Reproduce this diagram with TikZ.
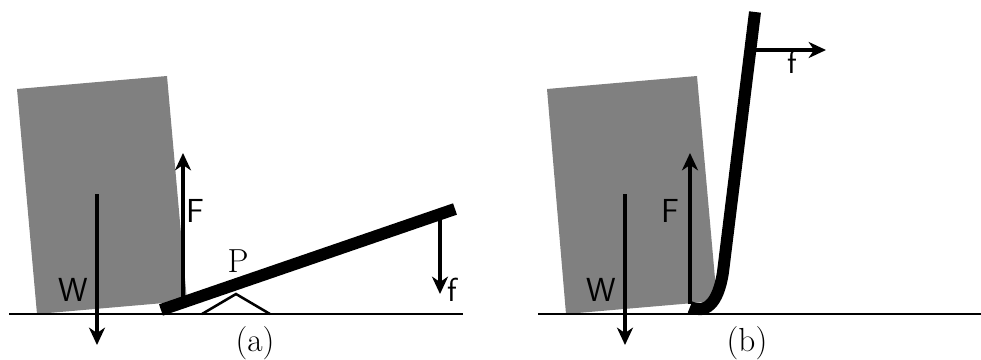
\documentclass[tikz,border=0pt]{standalone}
\usepackage{tikz}
\usetikzlibrary{arrows.meta,positioning}
\definecolor{blockgray}{RGB}{128,128,128}
\tikzset{
  block/.style={fill=blockgray,draw=none},
  ground/.style={line width=1.9pt},
  lever/.style={line width=9pt},
  force/.style={-{Stealth[length=13pt,width=12pt,inset=4pt]},line width=3pt},
  sanslabel/.style={font=\fontsize{25}{25}\selectfont\sffamily,inner sep=0pt},
  seriflabel/.style={font=\fontsize{25}{25}\selectfont,inner sep=0pt},
}
\begin{document}
\begin{tikzpicture}[x=0.75pt,y=-0.75pt]
\useasboundingbox (0,0) rectangle (981,360);
% panel (a)
\fill[block] (17,89)--(167,76)--(187,301)--(37,314)--cycle;
\coordinate (groundA1) at (9,314);
\coordinate (groundA2) at (463,314);
\draw[ground] (groundA1)--(groundA2);
\coordinate (pivotL) at (202,314);
\coordinate (pivotT) at (236,294);
\coordinate (pivotR) at (270,314);
\draw[ground] (pivotL)--(pivotT)--(pivotR);
\coordinate (leverA1) at (161,310);
\coordinate (leverA2) at (455,209);
\draw[lever] (leverA1)--(leverA2);
\coordinate (wA1) at (97,194);
\coordinate (wA2) at (97,345);
\draw[force] (wA1)--(wA2);
\coordinate (fA1) at (183,304);
\coordinate (fA2) at (183,153);
\draw[force] (fA1)--(fA2);
\coordinate (sA1) at (440,215);
\coordinate (sA2) at (440,294);
\draw[force] (sA1)--(sA2);
\node[sanslabel] (labWa) at (73,290) {W};
\node[sanslabel] (labFa) at (195,211) {F};
\node[sanslabel] (labfa) at (452,290) {f};
\node[seriflabel] (labP) at (238,261) {P};
\node[seriflabel] (capa) at (255,343) {(a)};
% panel (b)
\fill[block] (547,89)--(697,76)--(717,301)--(566,314)--cycle;
\coordinate (groundB1) at (538,314);
\coordinate (groundB2) at (981,314);
\draw[ground] (groundB1)--(groundB2);
\coordinate (leverB1) at (755,12);
\coordinate (leverB2) at (723,272);
\coordinate (leverB3) at (690,307);
\draw[lever] (leverB1)--(leverB2)
  .. controls (718,305) and (705,314) .. (leverB3);
\coordinate (wB1) at (625,194);
\coordinate (wB2) at (625,345);
\draw[force] (wB1)--(wB2);
\coordinate (fB1) at (690,304);
\coordinate (fB2) at (690,153);
\draw[force] (fB1)--(fB2);
\coordinate (sB1) at (754,50);
\coordinate (sB2) at (826,50);
\draw[force] (sB1)--(sB2);
\node[sanslabel] (labWb) at (601,290) {W};
\node[sanslabel] (labFb) at (670,211) {F};
\node[sanslabel] (labfb) at (792,62) {f};
\node[seriflabel] (capb) at (747,343) {(b)};
\end{tikzpicture}
\end{document}
